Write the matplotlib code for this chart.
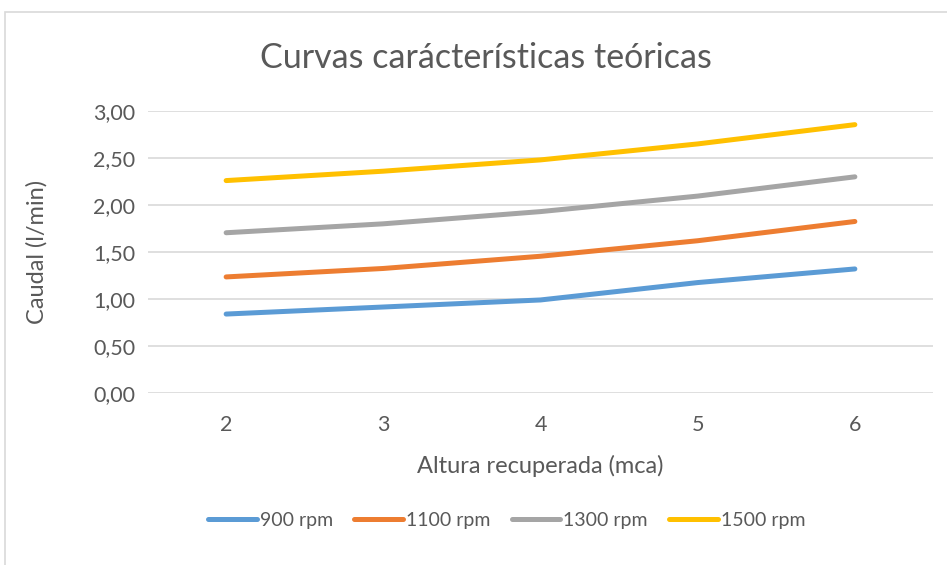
import matplotlib.pyplot as plt
from matplotlib.patches import Rectangle

plt.rcParams['font.family'] = ['Lato', 'DejaVu Sans']

altura = [2, 3, 4, 5, 6]
rpm_900 = [0.84, 0.915, 0.99, 1.175, 1.32]
rpm_1100 = [1.235, 1.325, 1.455, 1.62, 1.825]
rpm_1300 = [1.705, 1.80, 1.93, 2.095, 2.30]
rpm_1500 = [2.26, 2.36, 2.48, 2.65, 2.855]
labels = ['900 rpm', '1100 rpm', '1300 rpm', '1500 rpm']
colors = ['#5B9BD5', '#ED7D31', '#A5A5A5', '#FFC000']
text_color = '#595959'

fig = plt.figure(figsize=(9.47, 5.65), dpi=100)
ax = fig.add_axes([0.1558, 0.3044, 0.8299, 0.4991])

# chart area border
fig.patches.append(Rectangle((5 / 947, -0.1), 1.2, 1 - 12 / 565 + 0.1,
                             transform=fig.transFigure, fill=False,
                             edgecolor='#D9D9D9', linewidth=1.2))

for serie, lab, col in zip([rpm_900, rpm_1100, rpm_1300, rpm_1500], labels, colors):
    ax.plot(altura, serie, color=col, linewidth=3.6, label=lab,
            solid_capstyle='round')

ax.set_xlim(1.5, 6.5)
ax.set_ylim(0, 3)
ax.set_xticks(altura)
ax.set_yticks([0, 0.5, 1, 1.5, 2, 2.5, 3])
ax.set_yticklabels([f'{v:.2f}'.replace('.', ',') for v in ax.get_yticks()])
ax.tick_params(length=0, labelsize=15.5, colors=text_color)
ax.tick_params(axis='y', pad=9)
ax.tick_params(axis='x', pad=16)
ax.grid(axis='y', color='#D9D9D9', linewidth=1.2)
ax.set_axisbelow(True)
for s in ax.spines.values():
    s.set_visible(False)

ax.set_xlabel('Altura recuperada (mca)', fontsize=17, color=text_color, labelpad=14)
ax.set_ylabel('Caudal (l/min)', fontsize=17, color=text_color, labelpad=33)
fig.text(0.513, 0.897, 'Curvas carácterísticas teóricas', ha='center', va='center',
         fontsize=24.5, color=text_color)

fig.legend(loc='center', bbox_to_anchor=(0.535, 0.079), ncol=4, frameon=False,
           fontsize=14, handlelength=2.5, handletextpad=0.15, columnspacing=1.1,
           labelcolor=text_color)

fig.savefig('out.png', dpi=100)
